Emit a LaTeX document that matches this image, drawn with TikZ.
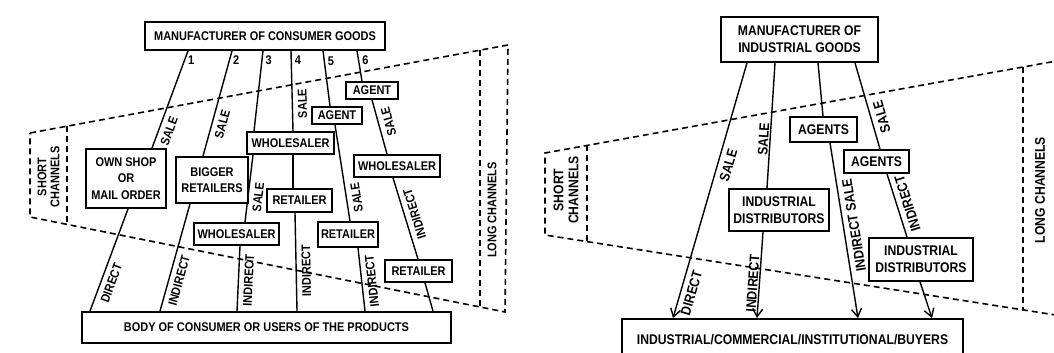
\documentclass[tikz,border=0pt]{standalone}
\usepackage{fontspec}
\newfontfamily\diagfont{Liberation Sans}[FakeStretch=0.87]
\usetikzlibrary{arrows.meta}
\tikzset{
  box/.style={draw, line width=1.8pt, inner sep=0pt, align=center},
  small/.style={font=\diagfont\bfseries\fontsize{12.6}{16.5}\selectfont},
  big/.style={font=\diagfont\bfseries\fontsize{14}{17}\selectfont},
  link/.style={line width=1.4pt},
  lbl/.style={sloped, allow upside down, rotate=180, below=4pt, inner sep=1pt},
  num/.style={right=2pt, inner sep=1pt},
  chan/.style={line width=1.6pt, dash pattern=on 6pt off 4pt},
}
\begin{document}
\begin{tikzpicture}[x=1pt, y=-1pt, small]
    \useasboundingbox (0,0) rectangle (1054,353);

    % Consumer goods: boxes
    \node[box, minimum width=240, minimum height=28] (mcg) at (265,36) {MANUFACTURER OF CONSUMER GOODS};
    \node[box, minimum width=80, minimum height=59] (own) at (126,178.5) {OWN SHOP\\OR\\MAIL ORDER};
    \node[box, minimum width=72, minimum height=46] (bigr) at (212,180) {BIGGER\\RETAILERS};
    \node[box, minimum width=87, minimum height=22] (whm) at (290.5,143) {WHOLESALER};
    \node[box, minimum width=85, minimum height=22] (whl) at (236.5,234) {WHOLESALER};
    \node[box, minimum width=65, minimum height=23] (retm) at (299.5,200.5) {RETAILER};
    \node[box, minimum width=50, minimum height=17] (agt2) at (337,115.5) {AGENT};
    \node[box, minimum width=52, minimum height=17] (agt1) at (372,90.5) {AGENT};
    \node[box, minimum width=86, minimum height=22] (whr) at (397,166) {WHOLESALER};
    \node[box, minimum width=60, minimum height=25] (retr) at (348,234.5) {RETAILER};
    \node[box, minimum width=67, minimum height=22] (retf) at (418.5,271) {RETAILER};
    \node[box, minimum width=369, minimum height=31] (body) at (266.5,327.5) {BODY OF CONSUMER OR USERS OF THE PRODUCTS};

    % Consumer goods: channels 1 to 6
    \draw[link] ([xshift=-77]mcg.south) -- node[num, pos=.1] {1} node[lbl, pos=.79] {SALE} ([xshift=26]own.north);
    \draw[link] ([xshift=2]own.south) -- node[lbl, pos=.69] {DIRECT} ([xshift=-176.5]body.north);
    \draw[link] ([xshift=-33]mcg.south) -- node[num, pos=.09] {2} node[lbl, pos=.67] {SALE} ([xshift=-9]bigr.north);
    \draw[link] ([xshift=-22]bigr.south) -- node[lbl, pos=.69] {INDIRECT} ([xshift=-106.5]body.north);
    \draw[link] ([xshift=-2]mcg.south) -- node[num, pos=.12] {3} ([xshift=-36.5]whm.north);
    \draw[link] ([xshift=-37.5]whm.south) -- node[lbl, pos=.61] {SALE} ([xshift=8.5]whl.north);
    \draw[link] ([xshift=3.5]whl.south) -- node[lbl, pos=.52] {INDIRECT} ([xshift=-29.5]body.north);
    \draw[link] ([xshift=26]mcg.south) -- node[num, pos=.12] {4} node[lbl, pos=.66] {SALE} ([xshift=2.5]whm.north);
    \draw[link] ([xshift=2.5]whm.south) -- ([xshift=-6.5]retm.north);
    \draw[link] ([xshift=-4.5]retm.south) -- node[lbl, pos=.59] {INDIRECT} ([xshift=30.5]body.north);
    \draw[link] ([xshift=58]mcg.south) -- node[num, pos=.18] {5} ([xshift=-7]agt2.north);
    \draw[link] ([xshift=-2]agt2.south) -- node[lbl, pos=.77] {SALE} ([xshift=2]retr.north);
    \draw[link] ([xshift=10]retr.south) -- node[lbl, pos=.54] {INDIRECT} ([xshift=98.5]body.north);
    \draw[link] ([xshift=92]mcg.south) -- node[num, pos=.31] {6} ([xshift=-10]agt1.north);
    \draw[link] (agt1.south) -- node[lbl, pos=.45] {SALE} ([xshift=-10]whr.north);
    \draw[link] ([xshift=-4]whr.south) -- node[lbl, pos=.48] {INDIRECT} ([xshift=-0.5]retf.north);
    \draw[link] ([xshift=6.5]retf.south) -- ([xshift=166.5]body.north);

    % Consumer goods: short and long channels
    \draw[chan] (30,133) -- (508,45) -- (505,312) -- (30,217) -- cycle;
    \draw[chan] (67,126.2) -- (67,224.4);
    \draw[chan] (480,50.2) -- (480,307);
    \node[rotate=90, align=center, font=\diagfont\bfseries\fontsize{12.6}{13}\selectfont] (shc1) at (48.5,177) {SHORT\\CHANNELS};
    \node[rotate=90] (lgc1) at (492,210) {LONG CHANNELS};

    % Industrial goods
    \begin{scope}[big]
    \node[box, minimum width=157, minimum height=45] (mig) at (799.5,39.5) {MANUFACTURER OF\\INDUSTRIAL GOODS};
    \node[box, minimum width=67, minimum height=25] (agu) at (823.5,129.5) {AGENTS};
    \node[box, minimum width=65, minimum height=23] (agl) at (876.5,161.5) {AGENTS};
    \node[box, minimum width=100, minimum height=42] (idl) at (779,210) {INDUSTRIAL\\DISTRIBUTORS};
    \node[box, minimum width=104, minimum height=43] (idr) at (921,259.5) {INDUSTRIAL\\DISTRIBUTORS};
    \node[box, minimum width=341, minimum height=41] (buy) at (792.5,339.5) {INDUSTRIAL/COMMERCIAL/INSTITUTIONAL/BUYERS};

    \draw[link, ->, >={Straight Barb[length=8pt, width=10pt]}] ([xshift=-52.5]mig.south) -- node[lbl, pos=.39] {SALE} node[lbl, pos=.89] {DIRECT} ([xshift=-119.5]buy.north);
    \draw[link] ([xshift=-24.5]mig.south) -- node[lbl, above=4pt, pos=.61] {SALE} ([xshift=-12]idl.north);
    \draw[link, ->, >={Straight Barb[length=8pt, width=10pt]}] ([xshift=-16]idl.south) -- node[lbl, above=4pt, pos=.6] {INDIRECT} ([xshift=-35.5]buy.north);
    \draw[link] ([xshift=18.5]mig.south) -- ([xshift=-0.5]agu.north);
    \draw[link, ->, >={Straight Barb[length=8pt, width=10pt]}] ([xshift=6.5]agu.south) -- node[lbl, pos=.48] {INDIRECT SALE} ([xshift=65.5]buy.north);
    \draw[link] ([xshift=55.5]mig.south) -- node[lbl, pos=.66] {SALE} ([xshift=3.5]agl.north);
    \draw[link] ([xshift=10.5]agl.south) -- node[lbl, pos=.52] {INDIRECT} ([xshift=-14]idr.north);
    \draw[link, ->, >={Straight Barb[length=8pt, width=10pt]}] ([xshift=-1]idr.south) -- ([xshift=139.5]buy.north);

    \draw[chan] (1062,60) -- (545,153) -- (545,235) -- (1062,316);
    \draw[chan] (587,145.4) -- (587,241.6);
    \draw[chan] (1023,67) -- (1023,310);
    \node[rotate=90, align=center, font=\diagfont\bfseries\fontsize{14}{15}\selectfont] (shc2) at (566,190) {SHORT\\CHANNELS};
    \node[rotate=90] (lgc2) at (1040,190) {LONG CHANNELS};
    \end{scope}
\end{tikzpicture}
\end{document}
